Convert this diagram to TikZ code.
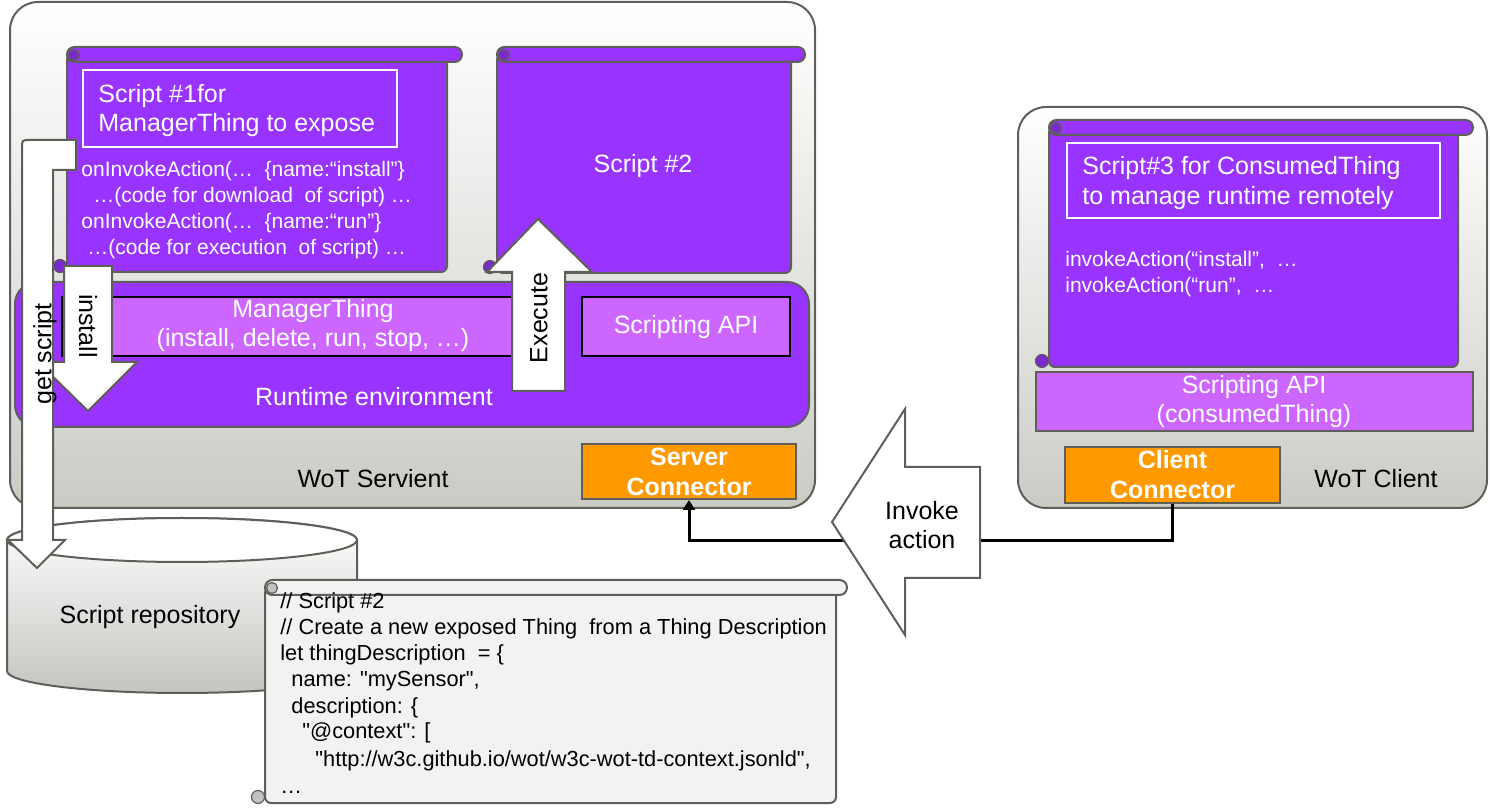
\documentclass[tikz,border=0pt]{standalone}
\usepackage{fontspec}
\setmainfont{Liberation Sans}
\newfontfamily\plainfont{Liberation Sans}
\usetikzlibrary{arrows.meta}
\definecolor{purp}{HTML}{9933FF}
\definecolor{lpurp}{HTML}{CC66FF}
\definecolor{orng}{HTML}{FF9900}
\definecolor{sgray}{HTML}{5F5F5A}
\definecolor{bgray}{HTML}{CBCBC6}
\definecolor{cylgray}{HTML}{C4C4C0}
\definecolor{cfill}{HTML}{F2F2F2}
\newcommand\myscroll[6]{%
  \filldraw[draw=sgray,line width=1pt,fill=#6,rounded corners=3pt] (#1,{#2+7}) -- (#1,#5) -- (#4,#5) -- (#4,{#2+7}) -- cycle;
  \filldraw[draw=sgray,line width=1pt,fill=#6,rounded corners=3.7pt] (#1,#2) rectangle (#3,{#2+15});
  \filldraw[draw=sgray,line width=0.6pt,fill=#6!80!black] ({#1+7},{#2+8}) circle[radius=5.5];
  \filldraw[draw=sgray,line width=0.6pt,fill=#6!80!black] ({#1-7},{#5-6}) circle[radius=6.5];
}
\tikzset{
  lbl/.style={font=\fontsize{12.5}{14.5}\selectfont, inner sep=0pt, align=center},
  wlbl/.style={lbl, text=white},
  code/.style={font=\plainfont\fontsize{10.5}{13}\selectfont, inner sep=0pt, anchor=base west},
  wcode/.style={code, text=white},
  kcode/.style={code, font=\plainfont\fontsize{10.9}{13}\selectfont},
  frame/.style={draw=sgray, line width=1pt},
  barrow/.style={frame, fill=white},
  con/.style={draw=sgray, line width=1pt, fill=orng, text=white, font=\bfseries\fontsize{12.5}{15}\selectfont, align=center, inner sep=0pt},
  wbox/.style={draw=white, line width=1pt},
  pbox/.style={draw=black, line width=1.2pt, fill=lpurp},
}
\begin{document}
\begin{tikzpicture}[x=0.5pt,y=-0.5pt]
\useasboundingbox (0,0) rectangle (1490,812);
% ---------------- WoT Servient ----------------
\path[frame, top color=white, bottom color=bgray, rounded corners=14pt] (10,2) rectangle (815,508);
\myscroll{67}{47}{462}{447}{272}{purp}
\myscroll{497}{47}{805}{791}{273}{purp}
\draw[wbox] (83,70) rectangle (397,147);
\node[lbl, text=white, anchor=base west] (t1a) at (98,103) {Script \#1for};
\node[lbl, text=white, anchor=base west] (t1b) at (98,132) {ManagerThing to expose};
\node[wcode] (c1) at (81,177) {onInvokeAction(…\ \ \{name:“install”\}};
\node[wcode] (c2) at (93,203) {…(code for download\ \ of script) …};
\node[wcode] (c3) at (81,229) {onInvokeAction(…\ \ \{name:“run”\}};
\node[wcode] (c4) at (87,255) {…(code for execution\ \ of script) …};
\node[wlbl] (s2) at (643,166) {Script \#2};
% runtime
\filldraw[frame, fill=purp, rounded corners=11pt] (15,282) rectangle (809,427);
\filldraw[pbox] (62,297) rectangle (530,356);
\node[wlbl] (mt) at (313,326) {ManagerThing\\(install, delete, run, stop, …)};
\filldraw[pbox] (582,297) rectangle (790,356);
\node[wlbl] (sapi) at (686,327) {Scripting API};
\node[wlbl] (rt) at (374,397) {Runtime environment};
\node[lbl] (ws) at (373,479) {WoT Servient};
\node[con, minimum width=107pt, minimum height=27.5pt] (sc) at (689,471.5) {Server\\Connector};
% install arrow
\filldraw[barrow] (64,266) -- (112,266) -- (112,362) -- (137,362) -- (88,411) -- (38,362) -- (64,362) -- cycle;
\node[lbl, rotate=-90] (inst) at (88,326) {install};
% execute arrow
\filldraw[barrow] (512,391) -- (565,391) -- (565,272) -- (592,272) -- (538,219) -- (487,272) -- (512,272) -- cycle;
\node[lbl, rotate=90] (exe) at (539,318) {Execute};
% ---------------- Script repository ----------------
\path[frame, top color=white, bottom color=cylgray] (7,540) -- (7,671) arc[start angle=180, end angle=0, x radius=175, y radius=22] -- (357,540) arc[start angle=0, end angle=-180, x radius=175, y radius=22] -- cycle;
\filldraw[frame, fill=white] (182,540) ellipse[x radius=175, y radius=22];
\node[lbl] (repo) at (150,617) {Script repository};
% code scroll
\myscroll{265}{580}{847}{836}{803}{cfill}
\node[kcode] (k1) at (280,609) {// Script \#2};
\node[kcode] (k2) at (280,635) {// Create a new exposed Thing\ \ from a Thing Description};
\node[kcode] (k3) at (280,661) {let thingDescription\ \ = \{};
\node[kcode] (k4) at (291,687) {name: "mySensor",};
\node[kcode] (k5) at (291,713) {description: \{};
\node[kcode] (k6) at (302,739) {"@context": [};
\node[kcode] (k7) at (315,766) {"http://w3c.github.io/wot/w3c-wot-td-context.jsonld",};
\node[kcode] (k8) at (280,793) {…};
% get script arrow
\filldraw[barrow] (76,170) -- (76,140) -- (30,140) .. controls (22,140) .. (22,148) -- (22,540) -- (8,540) -- (37,568) -- (65,540) -- (53,540) -- (53,170) -- cycle;
\node[lbl, rotate=90] (gs) at (45,354) {get script};
% ---------------- WoT Client ----------------
\path[frame, top color=white, bottom color=bgray, rounded corners=14pt] (1018,107) rectangle (1487,508);
\myscroll{1049}{120}{1473}{1458}{367}{purp}
\draw[wbox] (1067,143) rectangle (1440,218);
\node[lbl, text=white, anchor=base west] (t3a) at (1082,175) {Script\#3 for ConsumedThing};
\node[lbl, text=white, anchor=base west] (t3b) at (1082,205) {to manage runtime remotely};
\node[wcode] (d1) at (1065,267) {invokeAction(“install”,\ \ …};
\node[wcode] (d2) at (1065,293) {invokeAction(“run”,\ \ …};
\filldraw[frame, fill=lpurp] (1036,372) rectangle (1473,431);
\node[wlbl] (capi) at (1254,402) {Scripting API\\(consumedThing)};
\node[con, minimum width=107.5pt, minimum height=28pt] (cc) at (1172.5,475) {Client\\Connector};
\node[lbl] (wc) at (1376,479) {WoT Client};
% ---------------- connection ----------------
\draw[line width=1.5pt, -{Triangle[length=5pt,width=6pt]}] (cc.south) -- ++(0,37) -| (sc.south);
\filldraw[barrow] (832,522) -- (905,409) -- (905,467) -- (980,467) -- (980,578) -- (905,578) -- (905,635) -- cycle;
\node[lbl] (inv) at (922,525) {Invoke\\action};
\end{tikzpicture}
\end{document}
